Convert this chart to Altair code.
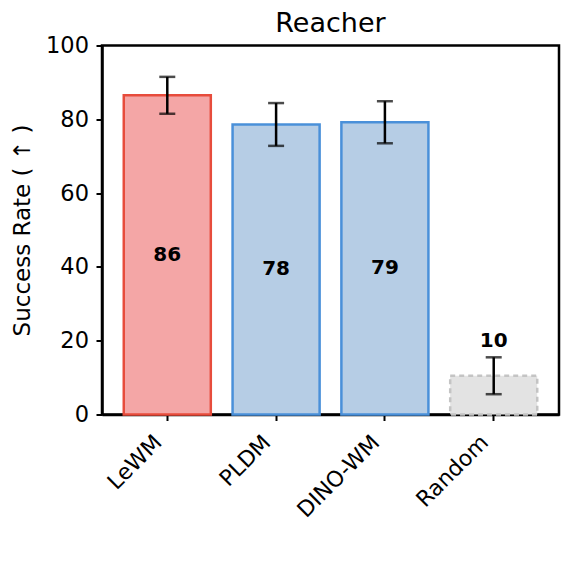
import altair as alt
import pandas as pd

# ---- data ----
methods = ["LeWM", "PLDM", "DINO-WM", "Random"]
success = [86.5, 78.6, 79.2, 10.5]
errors = [5.0, 5.8, 5.7, 5.0]
labels = ["86", "78", "79", "10"]

fills = ["#F4A6A6", "#B6CDE5", "#B6CDE5", "#E3E3E3"]
strokes = ["#E74C3C", "#4A90D9", "#4A90D9", "#C4C4C4"]
dashes = [[1, 0], [1, 0], [1, 0], [5, 4]]

df = pd.DataFrame({"method": methods, "value": success, "err": errors, "label": labels})
df["lower"] = df["value"] - df["err"]
df["upper"] = df["value"] + df["err"]
df["label_y"] = [v / 2 if v >= 20 else u + 4.5 for v, u in zip(df["value"], df["upper"])]

FONT = "DejaVu Sans"

x_enc = alt.X(
    "method:N",
    sort=methods,
    scale=alt.Scale(paddingInner=0.2, paddingOuter=0.2),
    axis=alt.Axis(
        title=None,
        labelAngle=-45,
        labelAlign="right",
        labelBaseline="middle",
        labelPadding=18,
        labelOffset=-9,
        labelFontSize=22,
        labelColor="black",
        tickSize=6,
        tickWidth=2,
        tickColor="black",
        domainColor="black",
        domainWidth=2.5,
    ),
)
y_scale = alt.Scale(domain=[0, 100], nice=False)
y_axis = alt.Axis(
    title="Success Rate ( ↑ )",
    values=[0, 20, 40, 60, 80, 100],
    grid=False,
    labelFontSize=22.5,
    labelColor="black",
    labelPadding=7.5,
    tickSize=6,
    tickWidth=2,
    tickColor="black",
    domainColor="black",
    domainWidth=2.5,
    titleFontSize=23,
    titleFontWeight="normal",
    titleColor="black",
    titleX=-73,
    titleY=184.5,
    titleBaseline="alphabetic",
    titleAlign="center",
)

base = alt.Chart(df)

bars = base.mark_bar(strokeWidth=2.5).encode(
    x=x_enc,
    y=alt.Y("value:Q", scale=y_scale, axis=y_axis),
    fill=alt.Fill("method:N", scale=alt.Scale(domain=methods, range=fills), legend=None),
    stroke=alt.Stroke("method:N", scale=alt.Scale(domain=methods, range=strokes), legend=None),
    strokeDash=alt.StrokeDash("method:N", scale=alt.Scale(domain=methods, range=dashes), legend=None),
)

rules = base.mark_rule(color="black", strokeWidth=2.5).encode(
    x=alt.X("method:N", sort=methods),
    y="lower:Q",
    y2="upper:Q",
)
cap_hi = base.mark_tick(color="black", size=16, thickness=2.5).encode(
    x=alt.X("method:N", sort=methods), y="upper:Q"
)
cap_lo = base.mark_tick(color="black", size=16, thickness=2.5).encode(
    x=alt.X("method:N", sort=methods), y="lower:Q"
)

texts = base.mark_text(fontSize=20, fontWeight="bold", color="black", baseline="middle").encode(
    x=alt.X("method:N", sort=methods),
    y="label_y:Q",
    text="label:N",
)

chart = (
    alt.layer(bars, rules, cap_hi, cap_lo, texts)
    .properties(
        width=457,
        height=369,
        title=alt.TitleParams(
            "Reacher", fontSize=27, fontWeight="normal", font=FONT, color="black",
            baseline="alphabetic", offset=12, dy=36.5, anchor="middle", frame="group",
        ),
        autosize=alt.AutoSizeParams(type="none"),
        padding={"left": 94, "top": 37.5, "right": 9, "bottom": 153.5},
    )
    .configure(font=FONT)
    .configure_view(stroke="black", strokeWidth=2.5)
)

chart.save("out.html", embed_options={"renderer": "svg", "actions": False})
